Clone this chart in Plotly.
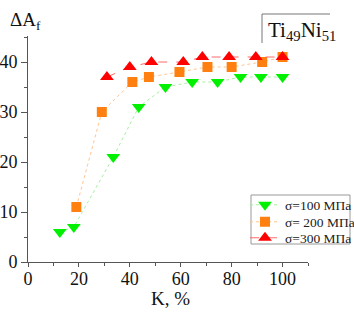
import plotly.graph_objects as go

# Data
k_100 = [12.5, 18, 33.5, 43.5, 54, 64.5, 74.5, 83.5, 91.5, 100]
dA_100 = [6, 7, 21, 31, 35, 36, 36, 37, 37, 37]

k_200 = [19, 29, 41, 47.5, 59.5, 70.5, 80, 92, 100]
dA_200 = [11, 30, 36, 37, 38, 39, 39, 40, 41]

k_300 = [31, 40, 48.5, 61, 68.5, 79, 89.5, 100]
dA_300 = [37, 39, 40, 40, 41, 41, 41, 41]

names = ["σ=100 МПа", "σ= 200 МПа", "σ=300 МПа"]

FONT = "Liberation Serif, DejaVu Serif, Times New Roman, serif"
L, R, T, B = 28, 46, 36, 52
W, H = 354, 314
PW, PH = W - L - R, H - T - B

def px(x):
    return (x - L) / PW

def py(y):
    return (H - B - y) / PH

fig = go.Figure()
fig.add_trace(go.Scatter(
    x=k_100, y=dA_100, name=names[0], mode="lines+markers", legend="legend",
    line=dict(color="#a6f0a0", width=1, dash="dot"),
    marker=dict(symbol="triangle-down", size=12, color="#00f000"),
))
fig.add_trace(go.Scatter(
    x=k_200, y=dA_200, name=names[1], mode="lines+markers", legend="legend2",
    line=dict(color="#ffc590", width=1, dash="dot"),
    marker=dict(symbol="square", size=10, color="#ff8010"),
))
fig.add_trace(go.Scatter(
    x=k_300, y=dA_300, name=names[2], mode="lines+markers", legend="legend3",
    line=dict(color="#ff6a6a", width=1, dash="dash"),
    marker=dict(symbol="triangle-up", size=12, color="#ff0000"),
))

axis_common = dict(
    showgrid=False, zeroline=False, showline=True, linecolor="#555",
    linewidth=1, ticks="outside", tickcolor="#555",
    tickfont=dict(family=FONT, size=18, color="#111"),
)
fig.update_xaxes(range=[0, 110], tickvals=[0, 20, 40, 60, 80, 100],
                 ticklen=4, ticklabelstandoff=-4,
                 minor=dict(tickvals=[10, 30, 50, 70, 90, 110], ticks="outside",
                            ticklen=3, tickcolor="#555"),
                 automargin=False, **axis_common)
fig.update_yaxes(range=[0, 45.2], tickvals=[0, 10, 20, 30, 40], ticklen=6,
                 minor=dict(tickvals=[5, 15, 25, 35, 45], ticks="outside",
                            ticklen=3, tickcolor="#555"),
                 automargin=False, **axis_common)

leg_common = dict(xanchor="left", yanchor="middle",
                  font=dict(family=FONT, size=13.5, color="#222"),
                  borderwidth=0, bgcolor="rgba(0,0,0,0)", itemwidth=30)
LEG_X = px(245)

fig.update_layout(
    width=W, height=H, margin=dict(l=L, r=R, t=T, b=B, autoexpand=False),
    plot_bgcolor="white", paper_bgcolor="white",
    font=dict(family=FONT, color="#111"),
    legend=dict(x=LEG_X, y=py(205), **leg_common),
    legend2=dict(x=LEG_X, y=py(222), **leg_common),
    legend3=dict(x=LEG_X, y=py(238), **leg_common),
    annotations=[
        dict(text="ΔA<sub>f</sub>", x=px(8), y=py(21), xref="paper", yref="paper",
             showarrow=False, font=dict(family=FONT, size=19, color="#111"),
             xanchor="left", yanchor="middle"),
        dict(text="K, %", x=px(170), y=py(298), xref="paper", yref="paper",
             showarrow=False, font=dict(family=FONT, size=19, color="#111"),
             xanchor="center", yanchor="middle"),
        dict(text="Ti<sub>49</sub>Ni<sub>51</sub>", x=px(266), y=py(31),
             xref="paper", yref="paper", showarrow=False,
             font=dict(family=FONT, size=21, color="#111"),
             xanchor="left", yanchor="middle"),
    ],
    shapes=[
        dict(type="line", xref="paper", yref="paper", x0=px(262), x1=px(330),
             y0=py(14), y1=py(14), line=dict(color="#777", width=1)),
        dict(type="line", xref="paper", yref="paper", x0=px(262), x1=px(262),
             y0=py(14), y1=py(43), line=dict(color="#777", width=1)),
        dict(type="rect", xref="paper", yref="paper", x0=px(251), x1=px(350),
             y0=py(195), y1=py(244), line=dict(color="#999", width=1),
             fillcolor="rgba(0,0,0,0)"),
    ],
    showlegend=True,
)

fig.write_html("out.html", config={"displayModeBar": False},
               post_script="document.body.style.margin='0';document.body.style.padding='0';")
